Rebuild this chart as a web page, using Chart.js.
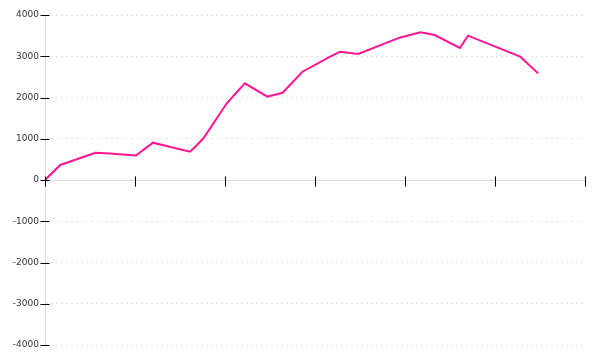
<!DOCTYPE html>
<html>
<head>
<meta charset="utf-8">
<script src="https://cdn.jsdelivr.net/npm/chart.js@4/dist/chart.umd.min.js"></script>
<style>
  html, body { margin: 0; padding: 0; background: #fff; }
  #wrap { width: 600px; height: 360px; }
</style>
</head>
<body>
<div id="wrap"><canvas id="myChart"></canvas></div>
<script>
// values
const xValues = [0, 0.17, 0.56, 0.72, 1.01, 1.2, 1.61, 1.69, 1.77, 2.02, 2.22, 2.47, 2.64, 2.86, 3.19, 3.28, 3.48, 3.94, 4.17, 4.33, 4.61, 4.70, 5.28, 5.48];
const yValues = [0, 364, 662, 640, 595, 905, 685, 850, 1040, 1860, 2345, 2020, 2115, 2625, 3015, 3110, 3055, 3450, 3580, 3515, 3200, 3500, 2990, 2585];
const yTicks = [-4000, -3000, -2000, -1000, 0, 1000, 2000, 3000, 4000];
const xTicks = [0, 1, 2, 3, 4, 5, 6];

const points = xValues.map((x, i) => ({x: x, y: yValues[i]}));

// black tick marks that cross the axes
const tickMarks = {
    id: 'tickMarks',
    afterDraw(chart) {
        const ctx = chart.ctx;
        const xs = chart.scales.x;
        const ys = chart.scales.y;
        const zeroY = Math.round(ys.getPixelForValue(0)) + 0.5;
        const axisX = Math.round(ys.right) + 0.5;
        ctx.save();
        ctx.strokeStyle = '#000';
        ctx.lineWidth = 1;
        ctx.beginPath();
        yTicks.forEach(v => {
            const y = Math.round(ys.getPixelForValue(v)) + 0.5;
            ctx.moveTo(axisX - 5, y);
            ctx.lineTo(axisX + 4, y);
        });
        xTicks.forEach(v => {
            const x = Math.round(xs.getPixelForValue(v)) + 0.5;
            ctx.moveTo(x, zeroY - 4);
            ctx.lineTo(x, zeroY + 6);
        });
        ctx.stroke();
        ctx.restore();
    }
};

const ctx = document.getElementById('myChart').getContext('2d');
const myChart = new Chart(ctx, {
    type: 'line',
    data: {
        datasets: [{
            data: points,
            borderColor: '#ff1493',
            borderWidth: 2,
            pointRadius: 0,
            tension: 0,
            fill: false
        }]
    },
    options: {
        responsive: true,
        maintainAspectRatio: false,
        animation: false,
        layout: { padding: { top: 15, right: 15, bottom: 15, left: 0 } },
        plugins: {
            legend: { display: false },
            tooltip: { enabled: false }
        },
        scales: {
            x: {
                type: 'linear',
                min: 0,
                max: 6,
                position: { y: 0 },
                ticks: { display: false, stepSize: 1 },
                grid: { display: false },
                border: { color: '#dddddd', width: 1 }
            },
            y: {
                min: -4000,
                max: 4000,
                afterFit: function (scale) { scale.width = 45; },
                ticks: {
                    stepSize: 1000,
                    padding: 6,
                    color: '#333',
                    font: { family: 'DejaVu Sans', size: 9 },
                    callback: function (v) { return String(v); }
                },
                grid: {
                    drawTicks: false,
                    color: function (c) { return c.tick && c.tick.value === 0 ? 'rgba(0,0,0,0)' : '#e6e6e6'; },
                    tickBorderDash: [2, 3]
                },
                border: { color: '#dddddd', dash: [2, 3], display: true }
            }
        }
    },
    plugins: [tickMarks]
});
</script>
</body>
</html>
